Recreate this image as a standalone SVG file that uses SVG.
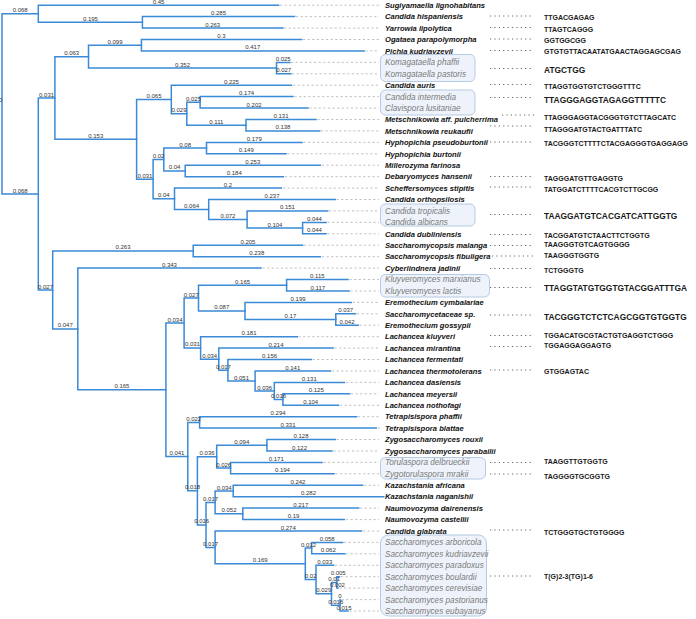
<svg xmlns="http://www.w3.org/2000/svg" width="696" height="619" viewBox="0 0 696 619">
<style>
.br{stroke:#3a8ad8;stroke-width:1.5;fill:none;stroke-linecap:square}
.bl{font-family:"Liberation Sans",Arial,sans-serif;font-size:6px;fill:#333;text-anchor:middle}
.ld{stroke:#b0b0b0;stroke-width:0.8;stroke-dasharray:2.2 2.4;fill:none}
.sp{font-family:"Liberation Sans",Arial,sans-serif;font-size:7.6px;font-weight:bold;font-style:italic;fill:#111}
.sg{font-family:"Liberation Sans",Arial,sans-serif;font-size:8.2px;font-style:italic;fill:#7a7a7a}
.box{fill:#eef3fb;stroke:#b4cae6;stroke-width:1}
.dt{stroke:#666;stroke-width:1;stroke-dasharray:1.2 3.2;fill:none}
.sq{font-family:"Liberation Sans",Arial,sans-serif;font-size:7px;font-weight:bold;fill:#1a1a1a}
.sL{font-family:"Liberation Sans",Arial,sans-serif;font-size:8.4px;font-weight:bold;fill:#1a1a1a}
</style>
<rect width="696" height="619" fill="#fff"/>
<g id="boxes">
<rect id="b1" class="box" x="380.5" y="54.5" width="94.5" height="27" rx="5"/>
<rect id="b2" class="box" x="380.5" y="90" width="94.5" height="25" rx="5"/>
<rect id="b3" class="box" x="380.5" y="204" width="94.5" height="22" rx="5"/>
<rect id="b4" class="box" x="380.5" y="274.5" width="109" height="22.5" rx="5"/>
<rect id="b5" class="box" x="380.5" y="457.5" width="105" height="21.5" rx="5"/>
<rect id="b6" class="box" x="380.5" y="535" width="106" height="81" rx="8"/>
</g>
<g id="connectors">
<path class="br" d="M2 13.8V194M2 13.8H38.3M2 194H38.3"/>
<path class="br" d="M38.3 5.2V22.35M38.3 5.2H278.6M38.3 22.35H142.4"/>
<path class="br" d="M142.4 16.6V28.1M142.4 16.6H294.6M142.4 28.1H282.9"/>
<path class="br" d="M38.3 98V290M38.3 98H54.9M38.3 290H52.7"/>
<path class="br" d="M54.9 56.65V139.3M54.9 56.65H88.5M54.9 139.3H136.6"/>
<path class="br" d="M88.5 45.2V68.1M88.5 45.2H141.4M88.5 68.1H276.5"/>
<path class="br" d="M141.4 39.5V50.9M141.4 39.5H301.6M141.4 50.9H364.1"/>
<path class="br" d="M276.5 62.4V73.8M276.5 62.4H289.8M276.5 73.8H290.9"/>
<path class="br" d="M136.6 99.5V179.15M136.6 99.5H171.3M136.6 179.15H153.1"/>
<path class="br" d="M171.3 85.2V113.8M171.3 85.2H291.4M171.3 113.8H186.8"/>
<path class="br" d="M186.8 102.35V125.2M186.8 102.35H200.1M186.8 125.2H246"/>
<path class="br" d="M200.1 96.6V108.1M200.1 96.6H293M200.1 108.1H308"/>
<path class="br" d="M246 119.5V130.9M246 119.5H316M246 130.9H319.7"/>
<path class="br" d="M153.1 159.5V198.8M153.1 159.5H163.8M153.1 198.8H174.5"/>
<path class="br" d="M163.8 148.1V170.95M163.8 148.1H206.5M163.8 170.95H185.2"/>
<path class="br" d="M206.5 142.4V153.8M206.5 142.4H302.1M206.5 153.8H286.1"/>
<path class="br" d="M185.2 165.2V176.7M185.2 165.2H320.3M185.2 176.7H283.4"/>
<path class="br" d="M174.5 188.1V209.5M174.5 188.1H281.3M174.5 209.5H208.7"/>
<path class="br" d="M208.7 199.5V219.5M208.7 199.5H335.2M208.7 219.5H247.1"/>
<path class="br" d="M247.1 210.9V228.1M247.1 210.9H327.7M247.1 228.1H302.6"/>
<path class="br" d="M302.6 222.4V233.8M302.6 222.4H326.1M302.6 233.8H326.1"/>
<path class="br" d="M52.7 250.95V328.95M52.7 250.95H193.2M52.7 328.95H77.8"/>
<path class="br" d="M193.2 245.2V256.7M193.2 245.2H302.6M193.2 256.7H320.3"/>
<path class="br" d="M77.8 268.1V389.8M77.8 268.1H261M77.8 389.8H165.9"/>
<path class="br" d="M165.9 323V456.6M165.9 323H184.1M165.9 456.6H187.8"/>
<path class="br" d="M184.1 298.1V347.95M184.1 298.1H198.5M184.1 347.95H200.6"/>
<path class="br" d="M198.5 285.25V310.95M198.5 285.25H286.6M198.5 310.95H245"/>
<path class="br" d="M286.6 279.5V291M286.6 279.5H348M286.6 291H349.1"/>
<path class="br" d="M245 302.4V319.5M245 302.4H351.2M245 319.5H335.8"/>
<path class="br" d="M335.8 313.8V325.2M335.8 313.8H355.5M335.8 325.2H358.2"/>
<path class="br" d="M200.6 336.7V359.2M200.6 336.7H297.3M200.6 359.2H218.8"/>
<path class="br" d="M218.8 348.1V370.25M218.8 348.1H333.1M218.8 370.25H227.9"/>
<path class="br" d="M227.9 359.5V381M227.9 359.5H311.2M227.9 381H255.1"/>
<path class="br" d="M255.1 371V391M255.1 371H330.4M255.1 391H274.3"/>
<path class="br" d="M274.3 382.4V399.55M274.3 382.4H344.3M274.3 399.55H282.9"/>
<path class="br" d="M282.9 393.8V405.3M282.9 393.8H349.6M282.9 405.3H338.4"/>
<path class="br" d="M187.8 422.4V490.8M187.8 422.4H199.6M187.8 490.8H197.4"/>
<path class="br" d="M199.6 416.7V428.1M199.6 416.7H356.6M199.6 428.1H376.3"/>
<path class="br" d="M197.4 456.7V524.9M197.4 456.7H216.7M197.4 524.9H206"/>
<path class="br" d="M216.7 445.25V468.1M216.7 445.25H266.9M216.7 468.1H230.6"/>
<path class="br" d="M266.9 439.5V451M266.9 439.5H335.2M266.9 451H332"/>
<path class="br" d="M230.6 462.4V473.8M230.6 462.4H321.9M230.6 473.8H334.1"/>
<path class="br" d="M206 502.4V547.4M206 502.4H215.1M206 547.4H215.1"/>
<path class="br" d="M215.1 491V513.85M215.1 491H233.2M215.1 513.85H242.8"/>
<path class="br" d="M233.2 485.3V496.7M233.2 485.3H362.5M233.2 496.7H383.8"/>
<path class="br" d="M242.8 508.1V519.6M242.8 508.1H358.7M242.8 519.6H344.3"/>
<path class="br" d="M215.1 531V563.85M215.1 531H361.4M215.1 563.85H305.3"/>
<path class="br" d="M305.3 548.1V579.6M305.3 548.1H311.7M305.3 579.6H316"/>
<path class="br" d="M311.7 542.4V553.8M311.7 542.4H342.7M311.7 553.8H344.8"/>
<path class="br" d="M316 565.3V593.85M316 565.3H333.6M316 593.85H331.5"/>
<path class="br" d="M331.5 582.4V605.3M331.5 582.4H336.8M331.5 605.3H340"/>
<path class="br" d="M336.8 576.7V588.1M336.8 576.7H339.5M336.8 588.1H337.9"/>
<path class="br" d="M340 599.6V611M340 611H348"/>
<g id="branch-labels">
<text class="bl" x="0.5" y="102.4">0</text>
<text class="bl" x="20.2" y="12.3">0.068</text>
<text class="bl" x="158.5" y="3.9">0.45</text>
<text class="bl" x="90.4" y="20.85">0.195</text>
<text class="bl" x="218.5" y="15.1">0.285</text>
<text class="bl" x="212.7" y="26.6">0.263</text>
<text class="bl" x="20.2" y="192.5">0.068</text>
<text class="bl" x="46.6" y="96.5">0.031</text>
<text class="bl" x="45.5" y="288.5">0.027</text>
<text class="bl" x="71.7" y="55.15">0.063</text>
<text class="bl" x="95.8" y="137.8">0.153</text>
<text class="bl" x="115" y="43.7">0.099</text>
<text class="bl" x="182.5" y="66.6">0.352</text>
<text class="bl" x="221.5" y="38">0.3</text>
<text class="bl" x="252.8" y="49.4">0.417</text>
<text class="bl" x="283.2" y="60.9">0.025</text>
<text class="bl" x="283.7" y="72.3">0.027</text>
<text class="bl" x="154" y="98">0.065</text>
<text class="bl" x="144.9" y="177.65">0.031</text>
<text class="bl" x="231.4" y="83.7">0.225</text>
<text class="bl" x="179" y="112.3">0.029</text>
<text class="bl" x="193.5" y="100.85">0.025</text>
<text class="bl" x="216.4" y="123.7">0.111</text>
<text class="bl" x="246.6" y="95.1">0.174</text>
<text class="bl" x="254.1" y="106.6">0.202</text>
<text class="bl" x="281" y="118">0.131</text>
<text class="bl" x="282.9" y="129.4">0.138</text>
<text class="bl" x="158.5" y="158">0.02</text>
<text class="bl" x="163.8" y="197.3">0.04</text>
<text class="bl" x="185.2" y="146.6">0.08</text>
<text class="bl" x="174.5" y="169.45">0.04</text>
<text class="bl" x="254.3" y="140.9">0.179</text>
<text class="bl" x="246.3" y="152.3">0.149</text>
<text class="bl" x="252.8" y="163.7">0.253</text>
<text class="bl" x="234.3" y="175.2">0.184</text>
<text class="bl" x="227.9" y="186.6">0.2</text>
<text class="bl" x="191.6" y="208">0.064</text>
<text class="bl" x="272" y="198">0.237</text>
<text class="bl" x="227.9" y="218">0.072</text>
<text class="bl" x="287.4" y="209.4">0.151</text>
<text class="bl" x="274.9" y="226.6">0.104</text>
<text class="bl" x="314.4" y="220.9">0.044</text>
<text class="bl" x="314.4" y="232.3">0.044</text>
<text class="bl" x="123" y="249.45">0.263</text>
<text class="bl" x="65.3" y="327.45">0.047</text>
<text class="bl" x="247.9" y="243.7">0.205</text>
<text class="bl" x="256.8" y="255.2">0.238</text>
<text class="bl" x="169.4" y="266.6">0.343</text>
<text class="bl" x="121.9" y="388.3">0.165</text>
<text class="bl" x="175" y="321.5">0.034</text>
<text class="bl" x="176.9" y="455.1">0.041</text>
<text class="bl" x="191.3" y="296.6">0.027</text>
<text class="bl" x="192.4" y="346.45">0.031</text>
<text class="bl" x="242.6" y="283.75">0.165</text>
<text class="bl" x="221.8" y="309.45">0.087</text>
<text class="bl" x="317.3" y="278">0.115</text>
<text class="bl" x="317.9" y="289.5">0.117</text>
<text class="bl" x="298.1" y="300.9">0.199</text>
<text class="bl" x="290.4" y="318">0.17</text>
<text class="bl" x="345.7" y="312.3">0.037</text>
<text class="bl" x="347" y="323.7">0.042</text>
<text class="bl" x="249" y="335.2">0.181</text>
<text class="bl" x="209.7" y="357.7">0.034</text>
<text class="bl" x="276" y="346.6">0.214</text>
<text class="bl" x="223.4" y="368.75">0.017</text>
<text class="bl" x="269.6" y="358">0.156</text>
<text class="bl" x="241.5" y="379.5">0.051</text>
<text class="bl" x="292.8" y="369.5">0.141</text>
<text class="bl" x="264.7" y="389.5">0.036</text>
<text class="bl" x="309.3" y="380.9">0.131</text>
<text class="bl" x="278.6" y="398.05">0.016</text>
<text class="bl" x="316.3" y="392.3">0.125</text>
<text class="bl" x="310.7" y="403.8">0.104</text>
<text class="bl" x="193.7" y="420.9">0.022</text>
<text class="bl" x="192.6" y="489.3">0.018</text>
<text class="bl" x="278.1" y="415.2">0.294</text>
<text class="bl" x="288" y="426.6">0.331</text>
<text class="bl" x="207.1" y="455.2">0.036</text>
<text class="bl" x="201.7" y="523.4">0.016</text>
<text class="bl" x="241.8" y="443.75">0.094</text>
<text class="bl" x="223.7" y="466.6">0.026</text>
<text class="bl" x="301" y="438">0.128</text>
<text class="bl" x="299.5" y="449.5">0.122</text>
<text class="bl" x="276.3" y="460.9">0.171</text>
<text class="bl" x="282.4" y="472.3">0.194</text>
<text class="bl" x="210.6" y="500.9">0.017</text>
<text class="bl" x="210.6" y="545.9">0.017</text>
<text class="bl" x="224.2" y="489.5">0.034</text>
<text class="bl" x="229" y="512.35">0.052</text>
<text class="bl" x="297.9" y="483.8">0.242</text>
<text class="bl" x="308.5" y="495.2">0.282</text>
<text class="bl" x="300.8" y="506.6">0.217</text>
<text class="bl" x="293.6" y="518.1">0.19</text>
<text class="bl" x="288.3" y="529.5">0.274</text>
<text class="bl" x="260.2" y="562.35">0.169</text>
<text class="bl" x="308.5" y="546.6">0.012</text>
<text class="bl" x="310.7" y="578.1">0.02</text>
<text class="bl" x="327.2" y="540.9">0.058</text>
<text class="bl" x="328.3" y="552.3">0.062</text>
<text class="bl" x="324.8" y="563.8">0.033</text>
<text class="bl" x="323.8" y="592.35">0.029</text>
<text class="bl" x="334.2" y="580.9">0.01</text>
<text class="bl" x="335.8" y="603.8">0.016</text>
<text class="bl" x="338.2" y="575.2">0.005</text>
<text class="bl" x="337.4" y="586.6">0.002</text>
<text class="bl" x="340" y="598.1">0</text>
<text class="bl" x="344" y="609.5">0.015</text>
</g>
</g>
<g id="n01"><path class="ld" d="M280 5.2H379"/><text class="sp" x="385" y="7.9">Sugiyamaella lignohabitans</text></g>
<g id="n02"><path class="ld" d="M296 16.6H379"/><text class="sp" x="385" y="19.3">Candida hispaniensis</text></g>
<g id="n03"><path class="ld" d="M284 28.1H379"/><text class="sp" x="385" y="30.8">Yarrowia lipolytica</text></g>
<g id="n04"><path class="ld" d="M303 39.5H379"/><text class="sp" x="385" y="42.2">Ogataea parapolymorpha</text></g>
<g id="n05"><path class="ld" d="M365.5 50.9H379"/><text class="sp" x="385" y="53.6">Pichia kudriavzevii</text></g>
<g id="n06"><path class="ld" d="M291 62.4H379"/><text class="sg" x="385" y="65.3">Komagataella phaffii</text></g>
<g id="n07"><path class="ld" d="M292 73.8H379"/><text class="sg" x="385" y="76.7">Komagataella pastoris</text></g>
<g id="n08"><path class="ld" d="M293 85.2H379"/><text class="sp" x="385" y="87.9">Candida auris</text></g>
<g id="n09"><path class="ld" d="M294.5 96.6H379"/><text class="sg" x="385" y="99.5">Candida intermedia</text></g>
<g id="n10"><path class="ld" d="M309.5 108.1H379"/><text class="sg" x="385" y="111">Clavispora lusitaniae</text></g>
<g id="n11"><path class="ld" d="M317.5 119.5H379"/><text class="sp" x="385" y="122.2">Metschnikowia aff. pulcherrima</text></g>
<g id="n12"><path class="ld" d="M321 130.9H379"/><text class="sp" x="385" y="133.6">Metschnikowia reukaufii</text></g>
<g id="n13"><path class="ld" d="M303.5 142.4H379"/><text class="sp" x="385" y="145.1">Hyphopichia pseudoburtonii</text></g>
<g id="n14"><path class="ld" d="M287.5 153.8H379"/><text class="sp" x="385" y="156.5">Hyphopichia burtonii</text></g>
<g id="n15"><path class="ld" d="M322 165.2H379"/><text class="sp" x="385" y="167.9">Millerozyma farinosa</text></g>
<g id="n16"><path class="ld" d="M285 176.7H379"/><text class="sp" x="385" y="179.4">Debaryomyces hansenii</text></g>
<g id="n17"><path class="ld" d="M283 188.1H379"/><text class="sp" x="385" y="190.8">Scheffersomyces stipitis</text></g>
<g id="n18"><path class="ld" d="M336.5 199.5H379"/><text class="sp" x="385" y="202.2">Candida orthopsilosis</text></g>
<g id="n19"><path class="ld" d="M329 210.9H379"/><text class="sg" x="385" y="213.8">Candida tropicalis</text></g>
<g id="n20"><path class="ld" d="M327.5 222.4H379"/><text class="sg" x="385" y="225.3">Candida albicans</text></g>
<g id="n21"><path class="ld" d="M327.5 233.8H379"/><text class="sp" x="385" y="236.5">Candida dubliniensis</text></g>
<g id="n22"><path class="ld" d="M304 245.2H379"/><text class="sp" x="385" y="247.9">Saccharomycopsis malanga</text></g>
<g id="n23"><path class="ld" d="M322 256.7H379"/><text class="sp" x="385" y="259.4">Saccharomycopsis fibuligera</text></g>
<g id="n24"><path class="ld" d="M262.5 268.1H379"/><text class="sp" x="385" y="270.8">Cyberlindnera jadinii</text></g>
<g id="n25"><path class="ld" d="M349.5 279.5H379"/><text class="sg" x="385" y="282.4">Kluyveromyces marxianus</text></g>
<g id="n26"><path class="ld" d="M350.5 291H379"/><text class="sg" x="385" y="293.9">Kluyveromyces lactis</text></g>
<g id="n27"><path class="ld" d="M352.5 302.4H379"/><text class="sp" x="385" y="305.1">Eremothecium cymbalariae</text></g>
<g id="n28"><path class="ld" d="M357 313.8H379"/><text class="sp" x="385" y="316.5">Saccharomycetaceae sp.</text></g>
<g id="n29"><path class="ld" d="M359.5 325.2H379"/><text class="sp" x="385" y="327.9">Eremothecium gossypii</text></g>
<g id="n30"><path class="ld" d="M298.5 336.7H379"/><text class="sp" x="385" y="339.4">Lachancea kluyveri</text></g>
<g id="n31"><path class="ld" d="M334.5 348.1H379"/><text class="sp" x="385" y="350.8">Lachancea mirantina</text></g>
<g id="n32"><path class="ld" d="M312.5 359.5H379"/><text class="sp" x="385" y="362.2">Lachancea fermentati</text></g>
<g id="n33"><path class="ld" d="M332 371H379"/><text class="sp" x="385" y="373.7">Lachancea thermotolerans</text></g>
<g id="n34"><path class="ld" d="M346 382.4H379"/><text class="sp" x="385" y="385.1">Lachancea dasiensis</text></g>
<g id="n35"><path class="ld" d="M351 393.8H379"/><text class="sp" x="385" y="396.5">Lachancea meyersii</text></g>
<g id="n36"><path class="ld" d="M340 405.3H379"/><text class="sp" x="385" y="408">Lachancea nothofagi</text></g>
<g id="n37"><path class="ld" d="M358 416.7H379"/><text class="sp" x="385" y="419.4">Tetrapisispora phaffii</text></g>
<g id="n38"><path class="ld" d="M378 428.1H380"/><text class="sp" x="385" y="430.8">Tetrapisispora blattae</text></g>
<g id="n39"><path class="ld" d="M336.5 439.5H379"/><text class="sp" x="385" y="442.2">Zygosaccharomyces rouxii</text></g>
<g id="n40"><path class="ld" d="M333.5 451H379"/><text class="sp" x="385" y="453.7">Zygosaccharomyces parabailii</text></g>
<g id="n41"><path class="ld" d="M323.5 462.4H379"/><text class="sg" x="385" y="465.3">Torulaspora delbrueckii</text></g>
<g id="n42"><path class="ld" d="M335.5 473.8H379"/><text class="sg" x="385" y="476.7">Zygotorulaspora mrakii</text></g>
<g id="n43"><path class="ld" d="M364 485.3H379"/><text class="sp" x="385" y="488">Kazachstania africana</text></g>
<g id="n44"><text class="sp" x="385" y="499.4">Kazachstania naganishii</text></g>
<g id="n45"><path class="ld" d="M360 508.1H379"/><text class="sp" x="385" y="510.8">Naumovozyma dairenensis</text></g>
<g id="n46"><path class="ld" d="M346 519.6H379"/><text class="sp" x="385" y="522.3">Naumovozyma castellii</text></g>
<g id="n47"><path class="ld" d="M363 531H379"/><text class="sp" x="385" y="533.7">Candida glabrata</text></g>
<g id="n48"><path class="ld" d="M344 542.4H379"/><text class="sg" x="385" y="545.3">Saccharomyces arboricola</text></g>
<g id="n49"><path class="ld" d="M346 553.8H379"/><text class="sg" x="385" y="556.7">Saccharomyces kudriavzevii</text></g>
<g id="n50"><path class="ld" d="M335 565.3H379"/><text class="sg" x="385" y="568.2">Saccharomyces paradoxus</text></g>
<g id="n51"><path class="ld" d="M341 576.7H379"/><text class="sg" x="385" y="579.6">Saccharomyces boulardii</text></g>
<g id="n52"><path class="ld" d="M339.5 588.1H379"/><text class="sg" x="385" y="591">Saccharomyces cerevisiae</text></g>
<g id="n53"><path class="ld" d="M341.5 599.6H379"/><text class="sg" x="385" y="602.5">Saccharomyces pastorianus</text></g>
<g id="n54"><path class="ld" d="M349.5 611H379"/><text class="sg" x="385" y="613.9">Saccharomyces eubayanus</text></g>
<g id="sequences">
<g id="s01"><path class="dt" d="M490 16H534"/><text class="sq" x="544" y="20.1">TTGACGAGAG</text></g>
<g id="s02"><path class="dt" d="M490 27.5H534"/><text class="sq" x="544" y="31.6">TTAGTCAGGG</text></g>
<g id="s03"><path class="dt" d="M490 39H534"/><text class="sq" x="544" y="43.1">GGTGGCGG</text></g>
<g id="s04"><path class="dt" d="M490 50.5H534"/><text class="sq" x="544" y="54.1">GTGTGTTACAATATGAACTAGGAGCGAG</text></g>
<g id="s05"><path class="dt" d="M490 68.5H534"/><text class="sL" x="544" y="72.5">ATGCTGG</text></g>
<g id="s06"><path class="dt" d="M490 84.5H534"/><text class="sq" x="544" y="88.6">TTAGGTGGTGTCTGGGTTTC</text></g>
<g id="s07"><path class="dt" d="M490 97.5H534"/><text class="sL" x="544" y="102.5">TTAGGGAGGTAGAGGTTTTTC</text></g>
<g id="s08"><path class="dt" d="M502 115H534"/><text class="sq" x="544" y="119.6">TTAGGGAGGTACGGGTGTCTTAGCATC</text></g>
<g id="s09"><path class="dt" d="M490 126H534"/><text class="sq" x="544" y="132.1">TTAGGGATGTACTGATTTATC</text></g>
<g id="s10"><path class="dt" d="M490 142H534"/><text class="sq" x="544" y="145.6">TACGGGTCTTTTCTACGAGGGTGAGGAGG</text></g>
<g id="s11"><path class="dt" d="M490 176.5H534"/><text class="sq" x="544" y="180.6">TAGGGATGTTGAGGTG</text></g>
<g id="s12"><path class="dt" d="M490 187H534"/><text class="sq" x="544" y="191.6">TATGGATCTTTTCACGTCTTGCGG</text></g>
<g id="s13"><path class="dt" d="M490 214.5H534"/><text class="sL" x="544" y="218.5">TAAGGATGTCACGATCATTGGTG</text></g>
<g id="s14"><path class="dt" d="M490 234.5H534"/><text class="sq" x="544" y="237.6">TACGGATGTCTAACTTCTGGTG</text></g>
<g id="s15"><path class="dt" d="M490 245.5H534"/><text class="sq" x="544" y="247.1">TAAGGGTGTCAGTGGGG</text></g>
<g id="s16"><path class="dt" d="M492 256H534"/><text class="sq" x="544" y="258.1">TAAGGGTGGTG</text></g>
<g id="s17"><path class="dt" d="M490 268.5H534"/><text class="sq" x="544" y="272.6">TCTGGGTG</text></g>
<g id="s18"><path class="dt" d="M490 287.5H534"/><text class="sL" x="544" y="291">TTAGGTATGTGGTGTACGGATTTGA</text></g>
<g id="s19"><path class="dt" d="M490 315H534"/><text class="sL" x="544" y="320">TACGGGTCTCTCAGCGGTGTGGTG</text></g>
<g id="s20"><path class="dt" d="M490 335.5H534"/><text class="sq" x="544" y="337.6">TGGACATGCGTACTGTGAGGTCTGGG</text></g>
<g id="s21"><path class="dt" d="M490 346.5H534"/><text class="sq" x="544" y="347.6">TGGAGGAGGAGTG</text></g>
<g id="s22"><path class="dt" d="M490 370H534"/><text class="sq" x="544" y="374.1">GTGGAGTAC</text></g>
<g id="s23"><path class="dt" d="M490 462.5H534"/><text class="sq" x="544" y="463.6">TAAGGTTGTGGTG</text></g>
<g id="s24"><path class="dt" d="M490 474H534"/><text class="sq" x="544" y="478.6">TAGGGGTGCGGTG</text></g>
<g id="s25"><path class="dt" d="M490 530H534"/><text class="sq" x="544" y="534.6">TCTGGGTGCTGTGGGG</text></g>
<g id="s26"><path class="dt" d="M490 576H534"/><text class="sq" x="544" y="579.1">T(G)2-3(TG)1-6</text></g>
</g>
</svg>
